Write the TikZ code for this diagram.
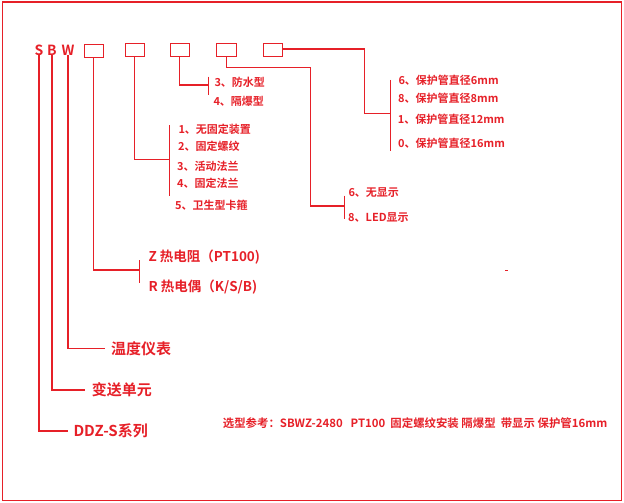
\documentclass[tikz,border=0pt]{standalone}
\usepackage{fontspec}
\setmainfont{Noto Sans CJK SC Bold}
\definecolor{rd}{RGB}{230,32,40}
\begin{document}
\begin{tikzpicture}[x=1pt,y=-1pt,
  ln/.style={draw=rd,line width=1.1pt},
  codebox/.style={draw=rd,line width=1.1pt,minimum width=19pt,minimum height=13pt,inner sep=0pt},
  letter/.style={text=rd,font=\fontsize{14}{16}\selectfont,inner sep=0pt},
  lbl/.style={text=rd,font=\fontsize{11}{13}\selectfont,anchor=west,inner sep=0pt},
  mid/.style={text=rd,font=\fontsize{13.5}{15}\selectfont,anchor=west,inner sep=0pt},
  big/.style={text=rd,font=\fontsize{15}{17}\selectfont,anchor=west,inner sep=0pt}]
\useasboundingbox (0,0) rectangle (624,503);
\draw[rd,line width=1.5pt] (2.5,2) rectangle (621.5,500.5);
% letters and code boxes
\node[letter] (S) at (39,50.5) {S};
\node[letter] (B) at (52,50.5) {B};
\node[letter] (W) at (68,50.5) {W};
\node[codebox] (b1) at (93.8,50.8) {};
\node[codebox] (b2) at (134.8,49.7) {};
\node[codebox] (b3) at (179.8,50) {};
\node[codebox,minimum width=20pt] (b4) at (226.3,50.2) {};
\node[codebox] (b5) at (272.8,49.7) {};
% labels
\node[lbl] (l3a) at (214.3,82.7) {3、防水型};
\node[lbl] (l3b) at (213.3,101.7) {4、隔爆型};
\node[lbl] (l2a) at (178.3,129) {1、无固定装置};
\node[lbl] (l2b) at (178,146) {2、固定螺纹};
\node[lbl] (l2c) at (177,166) {3、活动法兰};
\node[lbl] (l2d) at (177,183.3) {4、固定法兰};
\node[lbl] (l2e) at (175,205) {5、卫生型卡箍};
\node[lbl] (l5a) at (398.3,80.7) {6、保护管直径6mm};
\node[lbl] (l5b) at (398,98.3) {8、保护管直径8mm};
\node[lbl] (l5c) at (397.7,119.3) {1、保护管直径12mm};
\node[lbl] (l5d) at (398,143.3) {0、保护管直径16mm};
\node[lbl] (l4a) at (348.3,192.3) {6、无显示};
\node[lbl] (l4b) at (348,217.7) {8、LED显示};
\node[mid] (lz) at (148.3,257.3) {Z 热电阻（PT100)};
\node[mid] (lr) at (148.3,286.7) {R 热电偶（K/S/B)};
\node[big] (lw) at (111,348.3) {温度仪表};
\node[big] (lb) at (91.7,390) {变送单元};
\node[big] (ls) at (73.3,431) {DDZ-S系列};
\node[lbl,font=\fontsize{11.4}{13}\selectfont] (ex) at (222.7,422.7) {选型参考：SBWZ-2480\ \ \ PT100\ \ 固定螺纹安装 隔爆型\ \ 带显示 保护管16mm};
% bracket coordinates
\coordinate (k5) at (390.3,113.3);
\coordinate (k5t) at (390.3,80);
\coordinate (k5b) at (390.3,150.7);
\coordinate (k4) at (344.3,206);
\coordinate (k4t) at (344.3,195.7);
\coordinate (k4b) at (344.3,219);
\coordinate (k3) at (208.3,85);
\coordinate (k3t) at (208.3,76.7);
\coordinate (k3b) at (208.3,95);
\coordinate (k2) at (169.3,159.3);
\coordinate (k2t) at (169.3,125);
\coordinate (k2b) at (169.3,196);
\coordinate (k1) at (139.3,270);
\coordinate (k1t) at (139.3,260);
\coordinate (k1b) at (139.3,283.3);
\coordinate (kw) at (105,348.3);
\coordinate (kb) at (85,390);
\coordinate (ks) at (68.3,431);
% connectors
\draw[ln] (b5.east |- 0,49) -- (364.3,49) |- (k5);
\draw[ln] (k5t) -- (k5b);
\draw[ln] (b4.south) -- (226.3,67.3) -- (310.7,67.3) |- (k4);
\draw[ln] (k4t) -- (k4b);
\draw[ln] (b3.south) |- (k3);
\draw[ln] (k3t) -- (k3b);
\draw[ln] (b2.south) |- (k2);
\draw[ln] (k2t) -- (k2b);
\draw[ln] (b1.south) |- (k1);
\draw[ln] (k1t) -- (k1b);
\draw[ln] ([yshift=1pt]W.south) |- (kw);
\draw[ln] ([yshift=1pt]B.south) |- (kb);
\draw[ln] ([yshift=1pt]S.south) |- (ks);
\fill[rd] (505,269.5) rectangle (507.5,271);
\end{tikzpicture}
\end{document}
